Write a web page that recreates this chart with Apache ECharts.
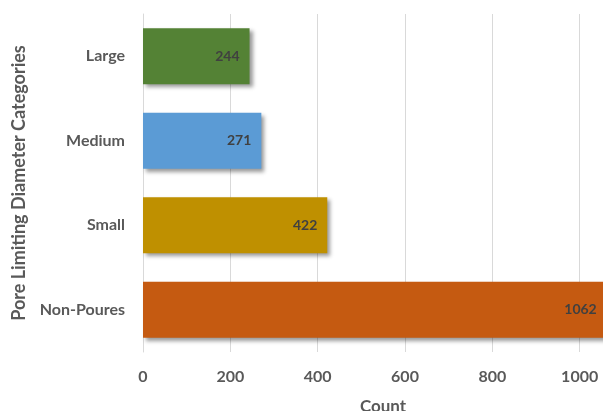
<!DOCTYPE html>
<html>
<head>
<meta charset="utf-8">
<style>
  html, body { margin: 0; padding: 0; background: #ffffff; overflow: hidden; width: 603px; height: 411px; }
  #chart { width: 667px; height: 411px; }
</style>
<script src="https://cdn.jsdelivr.net/npm/echarts@6/dist/echarts.min.js"></script>
</head>
<body>
<div id="chart"></div>
<script>
// Pore limiting diameter categories and their counts
var categories = ['Non-Poures', 'Small', 'Medium', 'Large'];
var counts = [1062, 422, 271, 244];
var barColors = ['#C55A11', '#BF9000', '#5B9BD5', '#548235'];
var countTicks = [0, 200, 400, 600, 800, 1000, 1200];

var FONT = 'Lato, "Open Sans", sans-serif';

var chart = echarts.init(document.getElementById('chart'), null, { renderer: 'canvas' });

chart.setOption({
  animation: false,
  backgroundColor: '#ffffff',
  grid: { left: 143, right: 0, top: 14, bottom: 59, containLabel: false, outerBoundsMode: 'none' },
  xAxis: {
    type: 'value',
    min: countTicks[0],
    max: countTicks[countTicks.length - 1],
    interval: countTicks[1] - countTicks[0],
    name: 'Count',
    nameLocation: 'middle',
    nameGap: 46,
    nameTextStyle: { fontFamily: FONT, fontWeight: 'bold', fontSize: 17, color: '#595959', padding: [0, 44, 0, 0] },
    axisLine: { show: false },
    axisTick: { show: false },
    axisLabel: {
      fontFamily: FONT, fontWeight: 'bold', fontSize: 16, color: '#595959', margin: 17,
      formatter: function (v) { return String(v); }
    },
    splitLine: { show: true, lineStyle: { color: '#D9D9D9', width: 1 } }
  },
  yAxis: {
    type: 'category',
    data: categories,
    name: 'Pore Limiting Diameter Categories',
    nameLocation: 'middle',
    nameGap: 115,
    nameRotate: 90,
    nameTextStyle: { fontFamily: FONT, fontWeight: 'bold', fontSize: 18, color: '#595959' },
    axisLine: { show: true, lineStyle: { color: '#D9D9D9', width: 1 } },
    axisTick: { show: false },
    axisLabel: { fontFamily: FONT, fontWeight: 'bold', fontSize: 16, color: '#595959', margin: 18 }
  },
  series: [{
    type: 'bar',
    data: counts.map(function (v, i) {
      return { value: v, itemStyle: { color: barColors[i] } };
    }),
    barWidth: 56,
    itemStyle: {
      shadowColor: 'rgba(0,0,0,0.4)',
      shadowBlur: 4,
      shadowOffsetX: 3,
      shadowOffsetY: 3
    },
    label: {
      show: true,
      position: 'insideRight',
      distance: 10,
      fontFamily: FONT,
      fontWeight: 'bold',
      fontSize: 14,
      color: '#404040'
    }
  }]
});
</script>
</body>
</html>
